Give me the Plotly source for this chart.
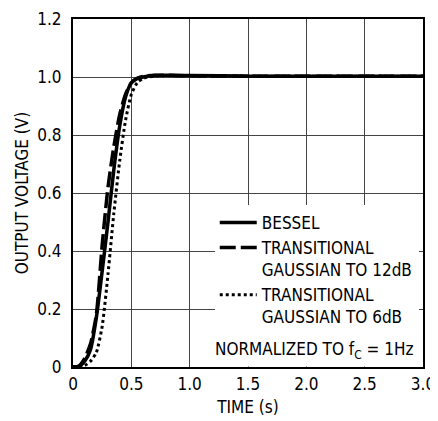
import plotly.graph_objects as go

# ---- data ----
bessel_t = [0, 0.05, 0.1, 0.15, 0.2, 0.25, 0.3, 0.35, 0.4, 0.45, 0.5, 0.55, 0.6, 0.7, 0.8, 1.0, 1.5, 2.0, 2.5, 3.0]
bessel_v = [0, 0.002, 0.02, 0.06, 0.17, 0.33, 0.50, 0.68, 0.83, 0.93, 0.98, 0.995, 1.0, 1.005, 1.006, 1.005, 1.003, 1.003, 1.003, 1.003]

tg12_t = [0, 0.05, 0.1, 0.15, 0.2, 0.25, 0.3, 0.35, 0.4, 0.45, 0.5, 0.55, 0.6, 0.7, 0.8, 1.0, 1.5, 2.0, 2.5, 3.0]
tg12_v = [0, 0.003, 0.03, 0.08, 0.18, 0.42, 0.62, 0.76, 0.87, 0.94, 0.98, 0.995, 1.002, 1.006, 1.006, 1.004, 1.003, 1.003, 1.003, 1.003]

tg6_t = [0, 0.1, 0.15, 0.2, 0.25, 0.3, 0.35, 0.4, 0.45, 0.5, 0.55, 0.6, 0.7, 0.8, 1.0, 1.5, 2.0, 2.5, 3.0]
tg6_v = [0, 0.005, 0.02, 0.05, 0.14, 0.32, 0.53, 0.71, 0.85, 0.94, 0.98, 0.995, 1.003, 1.005, 1.004, 1.003, 1.003, 1.003, 1.003]

x_ticks = [0, 0.5, 1.0, 1.5, 2.0, 2.5, 3.0]
x_ticklabels = ["0", "0.5", "1.0", "1.5", "2.0", "2.5", "3.0"]
y_ticks = [0, 0.2, 0.4, 0.6, 0.8, 1.0, 1.2]
y_ticklabels = ["0", "0.2", "0.4", "0.6", "0.8", "1.0", "1.2"]

names = ["BESSEL", "TRANSITIONAL<br>GAUSSIAN TO 12dB", "TRANSITIONAL<br>GAUSSIAN TO 6dB"]

FONT = "DejaVu Sans Condensed, Liberation Sans Narrow, Roboto, sans-serif"
FS = 17

fig = go.Figure()
fig.add_trace(go.Scatter(x=bessel_t, y=bessel_v, mode="lines", name=names[0],
                         line=dict(color="black", width=3.5, shape="spline", smoothing=0.6)))
fig.add_trace(go.Scatter(x=tg12_t, y=tg12_v, mode="lines", name=names[1],
                         line=dict(color="black", width=3.5, dash="16px,5px", shape="spline", smoothing=0.6)))
fig.add_trace(go.Scatter(x=tg6_t, y=tg6_v, mode="lines", name=names[2],
                         line=dict(color="black", width=3, dash="dot", shape="spline", smoothing=0.6)))

fig.add_annotation(text="NORMALIZED TO f<sub>C</sub> = 1Hz", xref="paper", yref="paper",
                   x=0.985, y=0.0, xanchor="right", yanchor="bottom", showarrow=False,
                   bgcolor="white", borderpad=4,
                   font=dict(family=FONT, size=FS, color="black"))

# the page body has an 8px margin, so the figure is sized to fit the window
fig.update_layout(
    width=430, height=413,
    margin=dict(l=65, r=15, t=11, b=54),
    paper_bgcolor="white", plot_bgcolor="white",
    font=dict(family=FONT, size=FS, color="black"),
    showlegend=True,
    legend=dict(x=0.405, y=0.466, xanchor="left", yanchor="top", bgcolor="white",
                borderwidth=0, valign="top", tracegroupgap=0, itemwidth=37,
                font=dict(family=FONT, size=FS, color="black")),
    xaxis=dict(range=[0, 3.0], tickvals=x_ticks, ticktext=x_ticklabels,
               showgrid=True, gridcolor="#444", gridwidth=1, zeroline=False,
               showline=True, linecolor="black", linewidth=2, mirror=True,
               ticks="", ticklabelstandoff=1, automargin=False, ticklabeloverflow="allow",
               title=dict(text="TIME (s)", standoff=8, font=dict(family=FONT, size=FS))),
    yaxis=dict(range=[0, 1.2], tickvals=y_ticks, ticktext=y_ticklabels,
               showgrid=True, gridcolor="#444", gridwidth=1, zeroline=False,
               showline=True, linecolor="black", linewidth=2, mirror=True,
               ticks="", ticklabelstandoff=6, automargin=False, ticklabeloverflow="allow",
               title=dict(text="OUTPUT VOLTAGE (V)", standoff=4, font=dict(family=FONT, size=FS))),
)

fig.write_html("out.html")
